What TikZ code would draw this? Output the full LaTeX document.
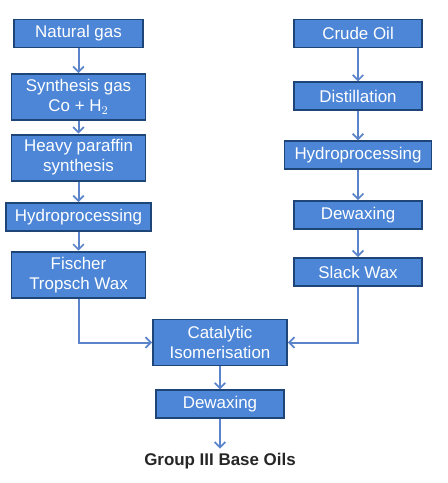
\documentclass[tikz,border=0pt]{standalone}
\usepackage{fontspec}
\setmainfont{Liberation Sans}
\usepackage{xcolor}
\usetikzlibrary{arrows.meta,positioning}
\definecolor{boxfill}{HTML}{4D86D6}
\definecolor{boxline}{HTML}{1E4577}
\definecolor{flow}{HTML}{5B84CB}

\begin{document}
\begin{tikzpicture}[x=0.75pt, y=-0.75pt, every node/.style={font=\fontsize{12.7}{15}\selectfont,
      align=center},
      stage/.style={draw=boxline, fill=boxfill, text=white, line width=1.4pt,
      minimum height=21pt, minimum width=96.5pt, inner sep=3pt},
      tall/.style={minimum height=34.5pt, minimum width=100.5pt},
      >={Straight Barb[length=4pt, width=8pt, line width=1.3pt]}]
    \useasboundingbox (0,0) rectangle (448,483);
    % gas-to-liquids route
    \node[stage] (ng) at (78.5,33.5) {Natural gas};
    \node[stage, tall, below=18.5pt of ng] (sg) {Synthesis gas\\Co + H$_2$};
    \node[stage, tall, below=9.5pt of sg] (hp) {Heavy paraffin\\synthesis};
    \node[stage, minimum width=108.75pt, below=15.5pt of hp] (hl) {Hydroprocessing};
    \node[stage, tall, below=14pt of hl] (fw) {Fischer\\Tropsch Wax};
    % mineral oil route
    \node[stage, right=111.75pt of ng] (co) {Crude Oil};
    \node[stage, below=24.75pt of co] (ds) {Distillation};
    \node[stage, minimum width=110.25pt, below=21.75pt of ds] (hr) {Hydroprocessing};
    \node[stage, below=22.5pt of hr] (dr) {Dewaxing};
    \node[stage, below=20.25pt of dr] (sw) {Slack Wax};
    % common finishing
    \node[stage, tall] (ci) at (220,342.5) {Catalytic\\Isomerisation};
    \node[stage, below=17.25pt of ci] (dc) {Dewaxing};
    \node[below=22pt of dc, font=\fontsize{12.7}{15}\selectfont\bfseries, text=black!85] (g3) {Group III Base Oils};
    \begin{scope}[draw=flow, line width=1.5pt]
      \draw[->] (ng) -- (sg); \draw[->] (sg) -- (hp); \draw[->] (hp) -- (hl);
      \draw[->] (hl) -- (fw);
      \draw[->] (co) -- (ds); \draw[->] (ds) -- (hr); \draw[->] (hr) -- (dr);
      \draw[->] (dr) -- (sw);
      \draw[->] (fw) |- (ci); \draw[->] (sw) |- (ci);
      \draw[->] (ci) -- (dc); \draw[->] (dc) -- (g3);
    \end{scope}
  \end{tikzpicture}
\end{document}
